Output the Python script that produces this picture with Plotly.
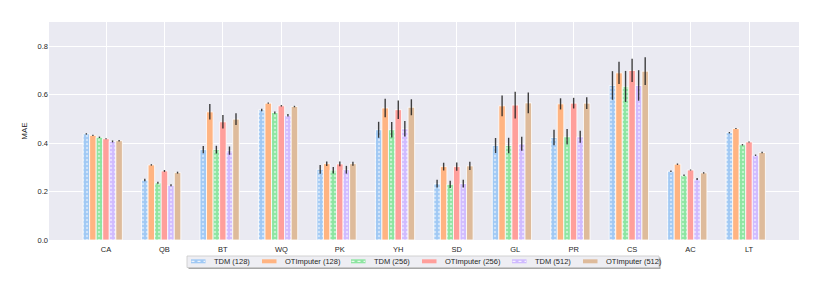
import plotly.graph_objects as go

categories = ["CA", "QB", "BT", "WQ", "PK", "YH", "SD", "GL", "PR", "CS", "AC", "LT"]

series_names = ["TDM (128)", "OTImputer (128)", "TDM (256)", "OTImputer (256)", "TDM (512)", "OTImputer (512)"]

tdm_128 = [0.438, 0.248, 0.373, 0.537, 0.292, 0.455, 0.233, 0.390, 0.423, 0.638, 0.284, 0.443]
ot_128 = [0.432, 0.310, 0.529, 0.565, 0.315, 0.545, 0.303, 0.554, 0.562, 0.690, 0.313, 0.460]
tdm_256 = [0.424, 0.236, 0.373, 0.526, 0.288, 0.455, 0.230, 0.390, 0.426, 0.634, 0.267, 0.393]
ot_256 = [0.418, 0.285, 0.488, 0.554, 0.314, 0.538, 0.303, 0.557, 0.565, 0.700, 0.289, 0.405]
tdm_512 = [0.407, 0.226, 0.369, 0.515, 0.290, 0.459, 0.233, 0.397, 0.426, 0.638, 0.252, 0.350]
ot_512 = [0.410, 0.278, 0.499, 0.551, 0.315, 0.548, 0.306, 0.566, 0.565, 0.697, 0.277, 0.361]

err_tdm_128 = [0.003, 0.005, 0.015, 0.005, 0.018, 0.033, 0.016, 0.031, 0.032, 0.059, 0.003, 0.003]
err_ot_128 = [0.003, 0.003, 0.032, 0.003, 0.009, 0.038, 0.016, 0.043, 0.023, 0.046, 0.003, 0.002]
err_tdm_256 = [0.003, 0.004, 0.016, 0.005, 0.013, 0.032, 0.015, 0.032, 0.032, 0.064, 0.003, 0.003]
err_ot_256 = [0.002, 0.004, 0.028, 0.003, 0.010, 0.038, 0.017, 0.055, 0.022, 0.048, 0.002, 0.002]
err_tdm_512 = [0.004, 0.004, 0.017, 0.005, 0.016, 0.032, 0.016, 0.029, 0.025, 0.063, 0.004, 0.003]
err_ot_512 = [0.003, 0.004, 0.024, 0.003, 0.008, 0.033, 0.017, 0.043, 0.024, 0.057, 0.003, 0.003]

values = [tdm_128, ot_128, tdm_256, ot_256, tdm_512, ot_512]
errors = [err_tdm_128, err_ot_128, err_tdm_256, err_ot_256, err_tdm_512, err_ot_512]
colors = ["#a1c9f4", "#ffb482", "#8de5a1", "#ff9f9b", "#d0bbff", "#debb9b"]
hatched = [True, False, True, False, True, False]

W, H = 822, 290
L, R, T, B = 49, 23, 22, 50
PW, PH = W - L - R, H - T - B

def px_x(px):
    return (px - L) / PW

def px_y(py):
    return (H - B - py) / PH

bar_w = 0.112

fig = go.Figure()
for i, (name, vals, errs, col, h) in enumerate(zip(series_names, values, errors, colors, hatched)):
    pattern = dict(shape=".", fgcolor="white", bgcolor=col, size=4, solidity=0.28, fillmode="overlay") if h else dict(shape="")
    fig.add_trace(go.Bar(
        x=categories, y=vals, name=name, showlegend=False,
        width=bar_w, offset=(i - 3.5) * bar_w,
        marker=dict(color=col, line=dict(color="white", width=0.8), pattern=pattern),
        error_y=dict(type="data", array=errs, color="rgba(30,30,30,0.85)", thickness=1.4, width=0),
    ))

# manual legend (compact box like the reference)
shapes = []
annotations = []
box_l, box_r, box_t, box_b = 187, 659, 256, 267.5
shapes.append(dict(type="rect", xref="paper", yref="paper",
                   x0=px_x(box_l + 1.5), x1=px_x(box_r + 1.5), y0=px_y(box_b + 1.5), y1=px_y(box_t + 1.5),
                   fillcolor="#a8a8a8", line=dict(width=0), layer="above"))
shapes.append(dict(type="rect", xref="paper", yref="paper",
                   x0=px_x(box_l), x1=px_x(box_r), y0=px_y(box_b), y1=px_y(box_t),
                   fillcolor="#eeeef3", line=dict(color="#c8c8c8", width=0.8), layer="above"))
swatch_x = [191, 262, 351, 422, 512, 583]
swatch_w = 14.5
sy0, sy1 = 259.3, 263.3
for i, (name, col, h) in enumerate(zip(series_names, colors, hatched)):
    x0 = swatch_x[i]
    shapes.append(dict(type="rect", xref="paper", yref="paper",
                       x0=px_x(x0), x1=px_x(x0 + swatch_w), y0=px_y(sy1), y1=px_y(sy0),
                       fillcolor=col, line=dict(width=0), layer="above"))
    if h:
        shapes.append(dict(type="line", xref="paper", yref="paper",
                           x0=px_x(x0 + 0.5), x1=px_x(x0 + swatch_w - 0.5),
                           y0=px_y((sy0 + sy1) / 2), y1=px_y((sy0 + sy1) / 2),
                           line=dict(color="white", width=1, dash="dot"), layer="above"))
    annotations.append(dict(xref="paper", yref="paper", x=px_x(x0 + swatch_w + 6.5), y=px_y(261.6),
                            xanchor="left", yanchor="middle", text=name, showarrow=False,
                            font=dict(size=7.5, color="#262626")))

fig.update_layout(
    width=W, height=H,
    margin=dict(l=L, r=R, t=T, b=B),
    barmode="overlay",
    paper_bgcolor="white",
    plot_bgcolor="#eaeaf2",
    font=dict(family="Liberation Sans, Arial, sans-serif", size=7, color="#262626"),
    showlegend=False,
    hovermode=False,
    xaxis=dict(
        range=[-0.975, 11.855], showgrid=True, gridcolor="white", gridwidth=1,
        ticks="", zeroline=False, tickfont=dict(size=7.5), automargin=False, ticklabelstandoff=3,
    ),
    yaxis=dict(
        range=[0, 0.9], tickvals=[0, 0.2, 0.4, 0.6, 0.8], tickformat=".1f",
        showgrid=True, gridcolor="white", gridwidth=1, zeroline=False, ticks="",
        title=dict(text="MAE", font=dict(size=8), standoff=8), tickfont=dict(size=7.5),
        automargin=False,
    ),
    shapes=shapes,
    annotations=annotations,
    bargap=0,
)

fig.write_html("out.html", config={"displayModeBar": False, "staticPlot": True},
               post_script="document.body.style.margin='0';document.body.style.overflow='hidden';")
